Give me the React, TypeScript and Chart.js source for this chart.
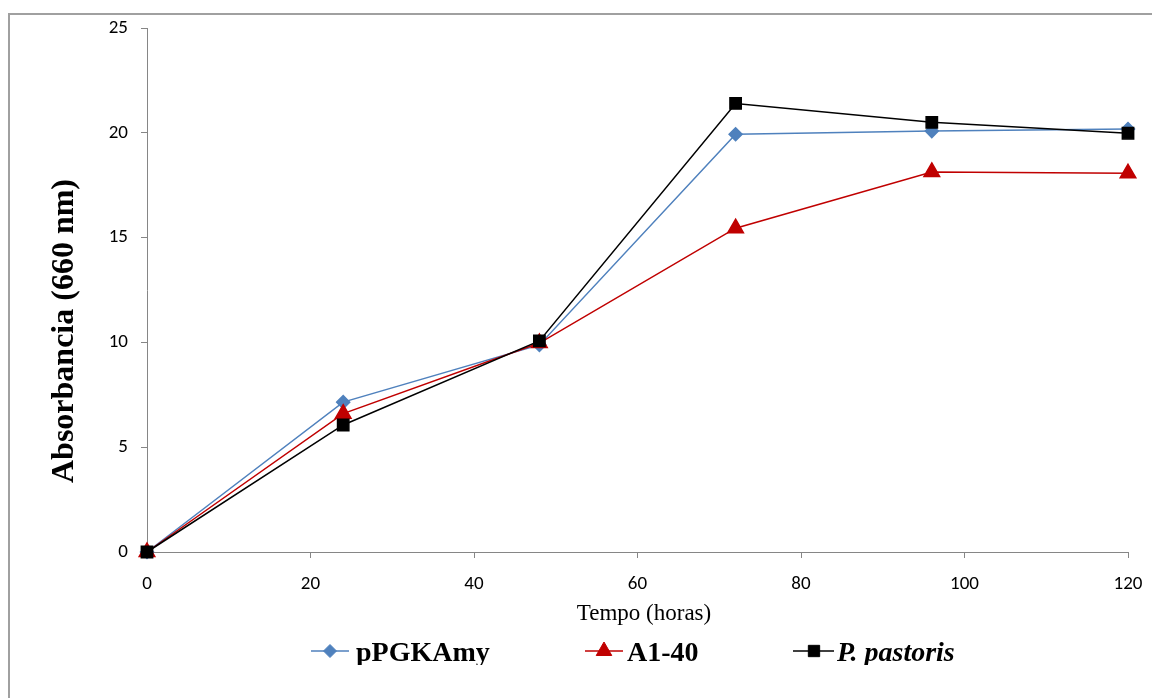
import { useEffect, useRef } from "react";
import { Chart, registerables } from "chart.js";
import { drawPoint } from "chart.js/helpers";

Chart.register(...registerables);

const hours = [0, 24, 48, 72, 96, 120];
const pPGKAmyValues = [0, 7.15, 9.88, 19.93, 20.08, 20.18];
const a140Values = [0, 6.6, 9.97, 15.45, 18.13, 18.07];
const pPastorisValues = [0, 6.06, 10.07, 21.4, 20.5, 19.98];
const seriesLabels = ["pPGKAmy", "A1-40", "P. pastoris"];
const xTitle = "Tempo (horas)";
const yTitle = "Absorbancia (660 nm)";

const SERIF = '"Liberation Serif", "Times New Roman", serif';
const TICK_FONT = 'Carlito, Calibri, Lato, "Open Sans", sans-serif';

const legendLayout = [
  { x0: 311, x1: 349, mx: 330, tx: 356, italic: false },
  { x0: 585, x1: 623, mx: 604, tx: 627, italic: false },
  { x0: 793, x1: 834, mx: 814, tx: 837, italic: true },
];

const overlayPlugin = {
  id: "overlay",
  afterDraw(chart: any) {
    const ctx = chart.ctx as CanvasRenderingContext2D;
    ctx.save();
    ctx.fillStyle = "#000";
    ctx.font = `23px ${SERIF}`;
    ctx.textAlign = "center";
    ctx.textBaseline = "alphabetic";
    ctx.fillText(xTitle, 644, 620);
    ctx.save();
    ctx.translate(73, 331);
    ctx.rotate(-Math.PI / 2);
    ctx.font = `bold 32px ${SERIF}`;
    ctx.fillText(yTitle, 0, 0);
    ctx.restore();
    const ly = 651;
    chart.data.datasets.forEach((ds: any, i: number) => {
      const L = legendLayout[i];
      ctx.save();
      ctx.strokeStyle = ds.borderColor;
      ctx.lineWidth = 1.5;
      ctx.beginPath();
      ctx.moveTo(L.x0, ly);
      ctx.lineTo(L.x1, ly);
      ctx.stroke();
      ctx.fillStyle = ds.pointBackgroundColor;
      ctx.strokeStyle = ds.pointBorderColor;
      ctx.lineWidth = 1;
      drawPoint(ctx, { pointStyle: ds.pointStyle, radius: ds.pointRadius, rotation: 0, borderWidth: 1 } as any, L.mx, ly);
      ctx.restore();
      ctx.save();
      ctx.beginPath();
      ctx.rect(0, 600, 1152, 65);
      ctx.clip();
      ctx.fillStyle = "#000";
      ctx.textAlign = "left";
      ctx.textBaseline = "alphabetic";
      ctx.font = `${L.italic ? "italic " : ""}bold 28px ${SERIF}`;
      ctx.fillText(ds.label, L.tx, 661);
      ctx.restore();
    });
    ctx.restore();
  },
};

function toPoints(vals: number[]) {
  return hours.map((h, i) => ({ x: h, y: vals[i] }));
}

export default function App() {
  const ref = useRef<HTMLCanvasElement | null>(null);
  useEffect(() => {
    if (!ref.current) return;
    const axisColor = "#868686";
    const chart = new Chart(ref.current, {
      type: "line",
      data: {
        datasets: [
          {
            label: seriesLabels[0],
            data: toPoints(pPGKAmyValues),
            borderColor: "#4F81BD",
            backgroundColor: "#4F81BD",
            pointBackgroundColor: "#4F81BD",
            pointBorderColor: "#4F81BD",
            pointStyle: "rectRot",
            pointRadius: 6.5,
            borderWidth: 1.5,
            clip: false,
            order: 2,
          },
          {
            label: seriesLabels[1],
            data: toPoints(a140Values),
            borderColor: "#C00000",
            backgroundColor: "#C00000",
            pointBackgroundColor: "#C00000",
            pointBorderColor: "#C00000",
            pointStyle: "triangle",
            pointRadius: 9,
            borderWidth: 1.5,
            clip: false,
            order: 1,
          },
          {
            label: seriesLabels[2],
            data: toPoints(pPastorisValues),
            borderColor: "#000000",
            backgroundColor: "#000000",
            pointBackgroundColor: "#000000",
            pointBorderColor: "#000000",
            pointStyle: "rect",
            pointRadius: 8,
            borderWidth: 1.5,
            clip: false,
            order: 0,
          },
        ] as any,
      },
      options: {
        animation: false,
        responsive: false,
        maintainAspectRatio: false,
        layout: { padding: { top: 28, right: 24, left: 0, bottom: 0 } },
        plugins: { legend: { display: false }, tooltip: { enabled: false } },
        elements: { line: { tension: 0 } },
        scales: {
          x: {
            type: "linear",
            min: 0,
            max: 120,
            ticks: { stepSize: 20, color: "#000", padding: 15, font: { family: TICK_FONT, size: 19 } },
            grid: { drawOnChartArea: false, drawTicks: true, tickLength: 6, color: axisColor },
            border: { color: axisColor, width: 1 },
            afterFit: (s: any) => {
              s.height = 146;
              s.paddingLeft = 0;
              s.paddingRight = 0;
            },
          },
          y: {
            type: "linear",
            min: 0,
            max: 25,
            ticks: { stepSize: 5, color: "#000", padding: 13, font: { family: TICK_FONT, size: 19 } },
            grid: { drawOnChartArea: false, drawTicks: true, tickLength: 6, color: axisColor },
            border: { color: axisColor, width: 1 },
            afterFit: (s: any) => {
              s.width = 147;
              s.paddingTop = 0;
              s.paddingBottom = 0;
            },
          },
        },
      } as any,
      plugins: [overlayPlugin],
    });
    return () => chart.destroy();
  }, []);

  return (
    <div style={{ position: "fixed", left: 0, top: 0, width: 1152, height: 698, overflow: "hidden", background: "#fff" }}>
      <div
        style={{
          position: "absolute",
          left: 8,
          top: 13,
          width: 1300,
          height: 900,
          borderLeft: "2px solid #a0a0a0",
          borderTop: "2px solid #a0a0a0",
          boxSizing: "border-box",
        }}
      />
      <canvas ref={ref} width={1152} height={698} style={{ position: "absolute", left: 0, top: 0, display: "block" }} />
    </div>
  );
}
